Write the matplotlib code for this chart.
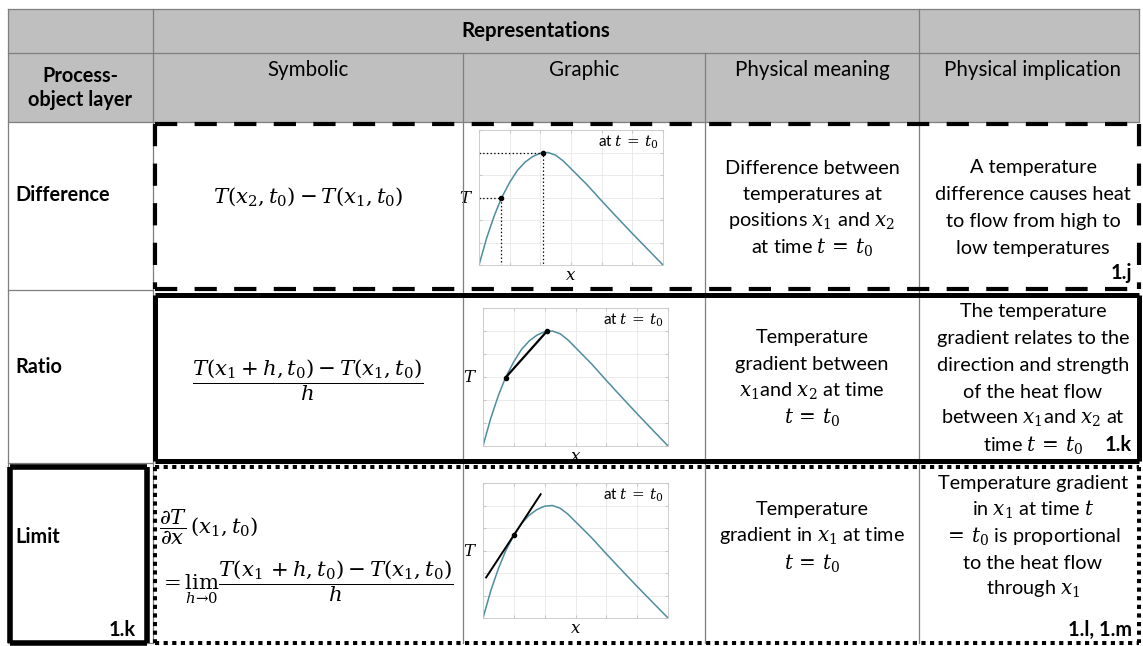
import numpy as np
import matplotlib.pyplot as plt
from matplotlib.patches import Rectangle

plt.rcParams['font.family'] = ['Lato', 'DejaVu Sans']
plt.rcParams['mathtext.fontset'] = 'dejavuserif'
plt.rcParams['lines.scale_dashes'] = False

W, H = 1143, 646

# table grid (pixels)
col_x = [8, 153, 463, 705, 919, 1139]
hdr_y = [9, 53, 122]
row_y = [122, 290, 463, 643]

layers = ['Difference', 'Ratio', 'Limit']
columns = ['Symbolic', 'Graphic', 'Physical meaning', 'Physical implication']

# temperature profile (grid units 0..6)
curve_x = [0, 0.25, 0.5, 0.73, 1.0, 1.25, 1.5, 1.75, 2.0, 2.25, 2.5, 2.75, 3.0, 3.5, 4.0, 4.5, 5.0, 5.5, 6.0]
curve_T = [0, 1.2, 2.2, 2.97, 3.67, 4.2, 4.57, 4.82, 4.97, 5.0, 4.88, 4.62, 4.28, 3.6, 2.85, 2.12, 1.4, 0.7, 0]
x1_pt = (0.73, 2.97)
peak_pt = (2.08, 5.0)
tangent_x = [0.1, 1.87]
tangent_T = [1.8, 5.5]
tangent_pt = (1.0, 3.67)

meaning = [
    ['Difference between', 'temperatures at', 'positions $x_1$ and $x_2$', 'at time $t\\,=\\,t_0$'],
    ['Temperature', 'gradient between', '$x_1$and $x_2$ at time', '$t\\,=\\,t_0$'],
    ['Temperature', 'gradient in $x_1$ at time', '$t\\,=\\,t_0$'],
]
meaning_y0 = [168, 338, 510]

implication = [
    ['A temperature', 'difference causes heat', 'to flow from high to', 'low temperatures'],
    ['The temperature', 'gradient relates to the', 'direction and strength',
     'of the heat flow', 'between $x_1$and $x_2$ at', 'time $t\\,=\\,t_0$'],
    ['Temperature gradient', 'in $x_1$ at time $t$', '$=\\,t_0$ is proportional',
     'to the heat flow', 'through $x_1$'],
]
implication_y0 = [168, 312, 483]
refs = ['1.j', '1.k', '1.l, 1.m']
ref_y = [273, 445, 630]

FS = 14.3

fig = plt.figure(figsize=(W / 100, H / 100), dpi=100)
ax = fig.add_axes([0, 0, 1, 1])
ax.set_xlim(0, W)
ax.set_ylim(H, 0)
ax.axis('off')
ax.set_zorder(10)
ax.patch.set_alpha(0)

thin = dict(color='#7f7f7f', lw=0.9)

# header
ax.add_patch(Rectangle((col_x[0], hdr_y[0]), col_x[-1] - col_x[0], hdr_y[2] - hdr_y[0],
                       fc='#bfbfbf', ec='none'))
for y in hdr_y:
    ax.plot([col_x[0], col_x[-1]], [y, y], **thin)
ax.plot([col_x[0], col_x[0]], [hdr_y[0], row_y[-1]], **thin)
ax.plot([col_x[1], col_x[1]], [hdr_y[0], row_y[-1]], **thin)
ax.plot([col_x[4], col_x[4]], [hdr_y[0], hdr_y[1]], **thin)
ax.plot([col_x[-1], col_x[-1]], [hdr_y[0], hdr_y[2]], **thin)
for x in col_x[2:5]:
    ax.plot([x, x], [hdr_y[1], row_y[-1]], **thin)
for y in row_y[1:]:
    ax.plot([col_x[0], col_x[1]], [y, y], **thin)

ax.text((col_x[1] + col_x[4]) / 2, 31, 'Representations', ha='center', va='center',
        fontsize=FS + 0.5, fontweight='bold')
ax.text((col_x[0] + col_x[1]) / 2, 88, 'Process-\nobject layer', ha='center', va='center',
        fontsize=FS, fontweight='bold', linespacing=1.3)
for i, c in enumerate(columns):
    ax.text((col_x[i + 1] + col_x[i + 2]) / 2 + (4 if i == 3 else 0), 70, c,
            ha='center', va='center', fontsize=FS + 0.5)

# row borders
def box(x0, x1, y0, y1, **kw):
    ax.plot([x0, x1], [y0, y0], solid_capstyle='butt', **kw)
    ax.plot([x0, x1], [y1, y1], solid_capstyle='butt', **kw)
    ax.plot([x0, x0], [y0, y1], solid_capstyle='butt', **kw)
    ax.plot([x1, x1], [y0, y1], solid_capstyle='butt', **kw)

box(155, 1139, 124, 289, color='k', lw=3.0, ls=(0, (16, 12.5)), dash_capstyle='butt')
box(155, 1139, 295, 461, color='k', lw=3.6)
box(155, 1139, 467, 643, color='k', lw=2.9, ls=(0, (3, 3.2)), dash_capstyle='butt')
box(10, 147, 467, 643, color='k', lw=4.0)

# layer labels
label_y = [195, 367, 537]
for name, y in zip(layers, label_y):
    ax.text(15, y, name, ha='left', va='center', fontsize=FS, fontweight='bold')
ax.text(136, 630, '1.k', ha='right', va='center', fontsize=FS, fontweight='bold')

# symbolic column
SF = 15.3
sx = (col_x[1] + col_x[2]) / 2
ax.text(sx, 197, r'$T(x_2,t_0) - T(x_1,t_0)$', ha='center', va='center', fontsize=SF)
ax.text(sx, 380, r'$\dfrac{T(x_1+h,t_0) - T(x_1,t_0)}{h}$', ha='center', va='center', fontsize=SF)
ax.text(159, 527, r'$\dfrac{\partial T}{\partial x}\,(x_1,t_0)$', ha='left', va='center', fontsize=SF)
ax.text(159, 582, r'$=\lim_{h\rightarrow 0}\dfrac{T(x_1+h,t_0) - T(x_1,t_0)}{h}$',
        ha='left', va='center', fontsize=SF)

# text columns
mx = (col_x[3] + col_x[4]) / 2
ix = (col_x[4] + col_x[5]) / 2 + 4
for lines, y0 in zip(meaning, meaning_y0):
    for k, s in enumerate(lines):
        ax.text(mx, y0 + 26.7 * k, s, ha='center', va='center', fontsize=FS)
for lines, y0 in zip(implication, implication_y0):
    for k, s in enumerate(lines):
        ax.text(ix, y0 + 26.7 * k, s, ha='center', va='center', fontsize=FS)
for r, y in zip(refs, ref_y):
    ax.text(1132, y, r, ha='right', va='center', fontsize=FS, fontweight='bold')

# small graphs
def inset(x0, x1, y0, y1):
    a = fig.add_axes([x0 / W, 1 - y1 / H, (x1 - x0) / W, (y1 - y0) / H])
    a.plot(curve_x, curve_T, color='#4f8d9e', lw=1.1)
    a.set_xlim(0, 6)
    a.set_ylim(0, 6)
    a.set_xticks(range(7))
    a.set_yticks(range(7))
    a.set_xticklabels([])
    a.set_yticklabels([])
    a.grid(color='#e8e8e8', lw=0.6)
    a.tick_params(length=2, color='#c8c8c8', direction='in', top=True, right=True)
    for s in a.spines.values():
        s.set_color('#c8c8c8')
        s.set_linewidth(0.6)
    a.text(5.85, 5.45, 'at $t\\,=\\,t_0$', ha='right', va='center', fontsize=11)
    a.text(-0.2, 3.0, '$T$', ha='right', va='center', fontsize=12, clip_on=False)
    a.text(3.0, -0.45, '$x$', ha='center', va='center', fontsize=12, clip_on=False)
    return a

g1 = inset(479, 663, 130, 265)
g1.plot([0, x1_pt[0], x1_pt[0]], [x1_pt[1], x1_pt[1], 0], color='k', ls=':', lw=0.9)
g1.plot([0, peak_pt[0], peak_pt[0]], [peak_pt[1], peak_pt[1], 0], color='k', ls=':', lw=0.9)
g1.plot([x1_pt[0], peak_pt[0]], [x1_pt[1], peak_pt[1]], 'ko', ms=3, ls='none')

g2 = inset(483, 668, 308, 446)
g2.plot([x1_pt[0], peak_pt[0]], [x1_pt[1], peak_pt[1]], color='k', lw=1.6, marker='o', ms=3)

g3 = inset(483, 668, 483, 618)
g3.plot(tangent_x, tangent_T, color='k', lw=1.4, clip_on=False)
g3.plot([tangent_pt[0]], [tangent_pt[1]], 'ko', ms=3)

fig.savefig('out.png', dpi=100)
